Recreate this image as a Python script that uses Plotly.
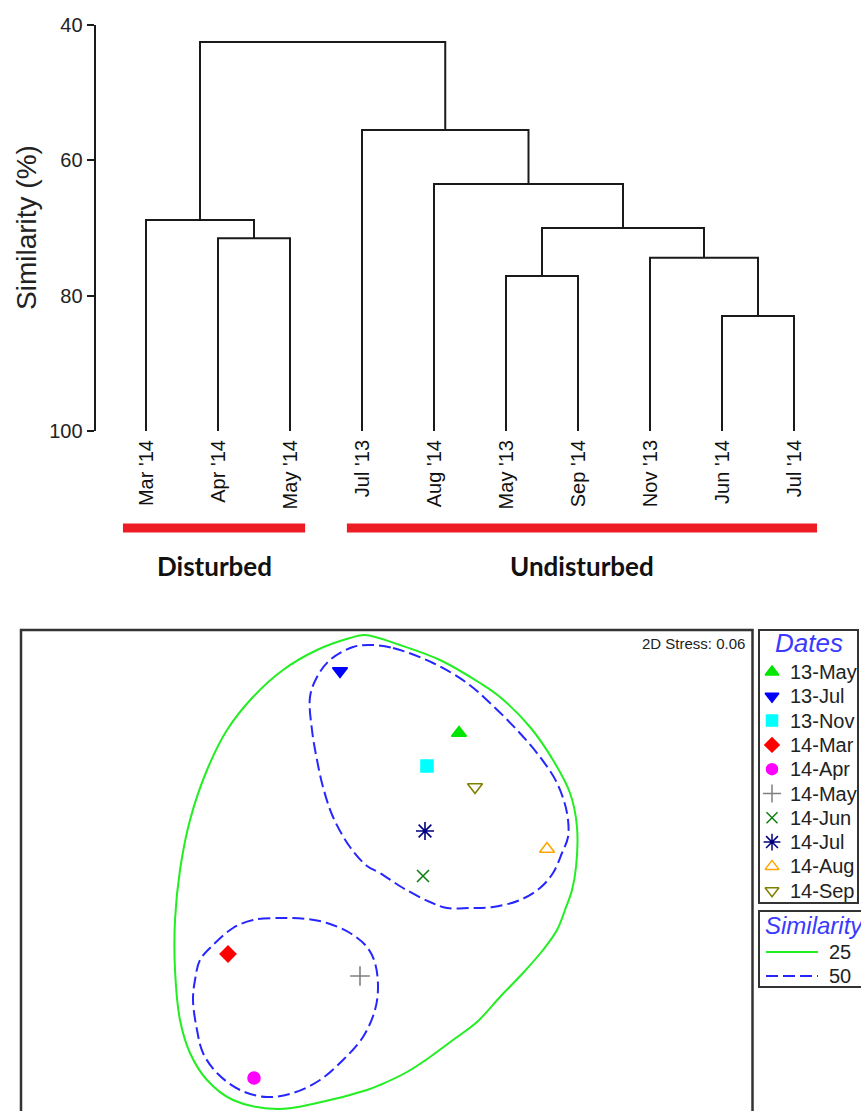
import plotly.graph_objects as go

# ---------------- Data ----------------
# Dendrogram (group-average clustering, similarity %)
leaves = ["Mar '14", "Apr '14", "May '14", "Jul '13", "Aug '14",
          "May '13", "Sep '14", "Nov '13", "Jun '14", "Jul '14"]
# merges: (child_a, child_b, similarity) ; new cluster ids start at len(leaves)
merge_a = [1, 0, 8, 5, 7, 13, 4, 3, 11]
merge_b = [2, 10, 9, 6, 12, 14, 15, 16, 17]
merge_sim = [71.5, 68.8, 83.0, 77.1, 74.4, 70.0, 63.5, 55.5, 42.5]
sim_ticks = [40, 60, 80, 100]

groups = ["Disturbed", "Undisturbed"]
group_first = [0, 3]
group_last = [2, 9]

# nMDS ordination
dates = ["13-May", "13-Jul", "13-Nov", "14-Mar", "14-Apr",
         "14-May", "14-Jun", "14-Jul", "14-Aug", "14-Sep"]
nmds_x = [0.72, -0.47, 0.40, -1.59, -1.33, -0.27, 0.36, 0.38, 1.60, 0.88]
nmds_y = [1.37, 1.99, 1.04, -0.84, -2.08, -1.06, -0.06, 0.39, 0.21, 0.83]
stress = 0.06

# similarity contours (25 % and 50 %)
c25_x = [-0.22, 0.13, 0.53, 0.93, 1.13, 1.43, 1.66, 1.83, 1.90, 1.89, 1.85, 1.78, 1.70,
         1.56, 1.36, 1.13, 0.90, 0.66, 0.43, 0.20, -0.07, -0.20, -0.70, -1.10, -1.54,
         -1.80, -1.97, -2.07, -2.12, -2.12, -2.07, -1.97, -1.80, -1.60, -1.34, -1.04,
         -0.70, -0.37, -0.22]
c25_y = [2.35, 2.25, 2.10, 1.87, 1.73, 1.43, 1.10, 0.77, 0.43, 0.03, -0.20, -0.40, -0.60,
         -0.80, -1.03, -1.27, -1.52, -1.70, -1.87, -2.02, -2.15, -2.20, -2.33, -2.39, -2.30,
         -2.10, -1.83, -1.50, -1.00, -0.50, 0.00, 0.50, 1.00, 1.40, 1.73, 2.00,
         2.20, 2.32, 2.35]
c50a_x = [-0.17, 0.06, 0.46, 0.80, 1.03, 1.30, 1.53, 1.70, 1.80, 1.81, 1.75, 1.66, 1.53,
          1.33, 1.06, 0.83, 0.60, 0.43, 0.16, -0.07, -0.20, -0.37, -0.54, -0.64, -0.70,
          -0.75, -0.77, -0.70, -0.57, -0.34, -0.17]
c50a_y = [2.25, 2.22, 2.07, 1.87, 1.67, 1.40, 1.13, 0.87, 0.57, 0.33, 0.17, -0.03, -0.18,
          -0.30, -0.37, -0.38, -0.38, -0.32, -0.18, -0.03, 0.04, 0.23, 0.53, 0.83, 1.10,
          1.40, 1.73, 1.93, 2.10, 2.23, 2.25]
c50b_x = [-1.04, -1.34, -1.54, -1.74, -1.87, -1.92, -1.94, -1.90, -1.84, -1.70, -1.47, -1.20,
          -0.94, -0.67, -0.44, -0.24, -0.12, -0.09, -0.12, -0.20, -0.37, -0.60, -0.80, -1.04]
c50b_y = [-0.48, -0.50, -0.58, -0.75, -0.90, -1.10, -1.30, -1.60, -1.83, -2.03, -2.20, -2.27,
          -2.23, -2.10, -1.90, -1.67, -1.40, -1.17, -0.93, -0.77, -0.63, -0.53, -0.49, -0.48]
sim_levels = ["25", "50"]

# ---------------- Styles ----------------
W, H = 861, 1111
FONT = "Liberation Sans, Arial, sans-serif"
sym = ["triangle-up", "triangle-down", "square", "diamond", "circle",
       "cross-thin-open", "x-thin-open", "asterisk-open", "triangle-up-open", "triangle-down-open"]
col = ["#00e600", "#0000ff", "#00ffff", "#ff0000", "#ff00ff",
       "#808080", "#108010", "#000080", "#ffa500", "#808000"]
msize = [13, 13, 12, 12, 12, 14, 12, 15, 13, 13]
c25_color = "#22ee22"
c50_color = "#2626ff"
red = "#ed1c24"


def px(v):  # pixel -> paper x
    return v / W


def py(v):  # pixel -> paper y
    return 1 - v / H


fig = go.Figure()

# ---------------- Dendrogram ----------------
n = len(leaves)
node_x = list(range(n))
node_h = [100.0] * n
dx, dy = [], []
for a, b, h in zip(merge_a, merge_b, merge_sim):
    xa, ha, xb, hb = node_x[a], node_h[a], node_x[b], node_h[b]
    dx += [xa, xa, xb, xb, None]
    dy += [ha, h, h, hb, None]
    node_x.append((xa + xb) / 2)
    node_h.append(h)

fig.add_trace(go.Scatter(x=dx, y=dy, mode="lines", xaxis="x", yaxis="y",
                         line=dict(color="#1a1a1a", width=2), hoverinfo="skip",
                         showlegend=False))

shapes = []
annotations = []

bar_y = py(528)
for i, g in enumerate(groups):
    lp = 0.32 if group_first[i] == 0 else 0.21
    rp = 0.32 if group_last[i] == n - 1 else 0.21
    x0 = group_first[i] - lp
    x1 = group_last[i] + rp
    shapes.append(dict(type="line", xref="x", yref="paper", x0=x0, x1=x1, y0=bar_y, y1=bar_y,
                       line=dict(color=red, width=9)))
    annotations.append(dict(text="<b>%s</b>" % g, xref="x", yref="paper", x=(x0 + x1) / 2,
                            y=py(566), showarrow=False, xanchor="center", yanchor="middle",
                            font=dict(family="Lato, sans-serif", size=26, color="#111")))

annotations.append(dict(text="Similarity (%)", xref="paper", yref="paper", x=px(27), y=py(228),
                        textangle=-90, showarrow=False, xanchor="center", yanchor="middle",
                        font=dict(family=FONT, size=28, color="#222")))

# ---------------- nMDS ----------------
for xs, ys, colr, dash, w in [(c25_x, c25_y, c25_color, "solid", 2),
                              (c50a_x, c50a_y, c50_color, "12px,5px", 2),
                              (c50b_x, c50b_y, c50_color, "12px,5px", 2)]:
    fig.add_trace(go.Scatter(x=xs, y=ys, mode="lines", xaxis="x2", yaxis="y2",
                             line=dict(color=colr, width=w, dash=dash, shape="spline", smoothing=1.0),
                             hoverinfo="skip", showlegend=False))

for i, d in enumerate(dates):
    fig.add_trace(go.Scatter(x=[nmds_x[i]], y=[nmds_y[i]], mode="markers", xaxis="x2", yaxis="y2",
                             name=d, showlegend=False,
                             marker=dict(symbol=sym[i], color=col[i], size=msize[i],
                                         line=dict(color=col[i], width=1.6))))

annotations.append(dict(text="2D Stress: %.2f" % stress, xref="paper", yref="paper",
                        x=px(747), y=py(643), xanchor="right", yanchor="middle", showarrow=False,
                        font=dict(family=FONT, size=15, color="#222")))

# panel border
shapes.append(dict(type="rect", xref="paper", yref="paper", x0=px(21), x1=px(752.5),
                   y0=-0.05, y1=py(630), line=dict(color="#333", width=2.5)))

# ---------------- Manual legends ----------------
row0, rowgap = 42, 24.3   # legend rows (px offsets from legend top)
leg_rows = [row0 + rowgap * i for i in range(len(dates))]
for i, d in enumerate(dates):
    fig.add_trace(go.Scatter(x=[13], y=[leg_rows[i]], mode="markers", xaxis="x3", yaxis="y3",
                             showlegend=False, hoverinfo="skip", cliponaxis=False,
                             marker=dict(symbol=sym[i], color=col[i], size=msize[i] - 1,
                                         line=dict(color=col[i], width=1.5))))
    annotations.append(dict(text=d, xref="x3", yref="y3", x=29, y=leg_rows[i], xanchor="left",
                            yanchor="middle", showarrow=False,
                            font=dict(family=FONT, size=20, color="#222")))
annotations.append(dict(text="<i>Dates</i>", xref="x3", yref="y3", x=50, y=13, xanchor="center",
                        yanchor="middle", showarrow=False,
                        font=dict(family=FONT, size=26, color="#3a3aff")))
shapes.append(dict(type="rect", xref="paper", yref="paper", x0=px(759), x1=px(858),
                   y0=py(903), y1=py(630), line=dict(color="#333", width=2)))

sim_rows = [322, 346]
sim_cols = [c25_color, c50_color]
sim_dash = ["solid", "12px,5px"]
for i, lv in enumerate(sim_levels):
    fig.add_trace(go.Scatter(x=[7, 59], y=[sim_rows[i], sim_rows[i]], mode="lines",
                             xaxis="x3", yaxis="y3", showlegend=False, hoverinfo="skip",
                             line=dict(color=sim_cols[i], width=2, dash=sim_dash[i])))
    annotations.append(dict(text=lv, xref="x3", yref="y3", x=68, y=sim_rows[i], xanchor="left",
                            yanchor="middle", showarrow=False,
                            font=dict(family=FONT, size=20, color="#222")))
annotations.append(dict(text="<i>Similarity</i>", xref="x3", yref="y3", x=4, y=295,
                        xanchor="left", yanchor="middle", showarrow=False,
                        font=dict(family=FONT, size=24, color="#3a3aff")))
shapes.append(dict(type="rect", xref="paper", yref="paper", x0=px(759), x1=1.05,
                   y0=py(987), y1=py(911), line=dict(color="#333", width=2)))

# ---------------- Layout ----------------
noax = dict(showgrid=False, zeroline=False, showline=False, showticklabels=False, ticks="")
fig.update_layout(
    width=W, height=H, margin=dict(l=0, r=0, t=0, b=0),
    paper_bgcolor="white", plot_bgcolor="rgba(0,0,0,0)",
    template="none", showlegend=False,
    xaxis=dict(domain=[px(95.6), px(830)], range=[-0.7, 9.5], showgrid=False, zeroline=False,
               showline=False, ticks="", tickmode="array", tickvals=list(range(n)),
               ticktext=leaves, tickangle=-90, ticklabelstandoff=4,
               tickfont=dict(family=FONT, size=20, color="#111"), anchor="y"),
    yaxis=dict(domain=[py(431), py(25)], range=[100, 40], tickmode="array", tickvals=sim_ticks,
               showgrid=False, zeroline=False, showline=True, linecolor="#1a1a1a", linewidth=2,
               ticks="outside", ticklen=7, tickwidth=2, tickcolor="#1a1a1a",
               tickfont=dict(family=FONT, size=20, color="#222"), anchor="x"),
    yaxis4=dict(overlaying="y", anchor="x", range=[100, 40], tickmode="array", tickvals=sim_ticks,
                showgrid=False, zeroline=False, showline=False, showticklabels=False,
                ticks="inside", ticklen=8, tickwidth=2, tickcolor="#1a1a1a"),
    xaxis2=dict(domain=[px(21), px(753)], range=[-3.66, 3.66], anchor="y2", **noax),
    yaxis2=dict(domain=[0, py(630)], range=[-2.41, 2.40], anchor="x2", **noax),
    xaxis3=dict(domain=[px(759), 1.0], range=[0, 102], anchor="y3", **noax),
    yaxis3=dict(domain=[py(1000), py(630)], range=[370, 0], anchor="x3", **noax),
    shapes=shapes, annotations=annotations,
)

fig.write_html("out.html")
